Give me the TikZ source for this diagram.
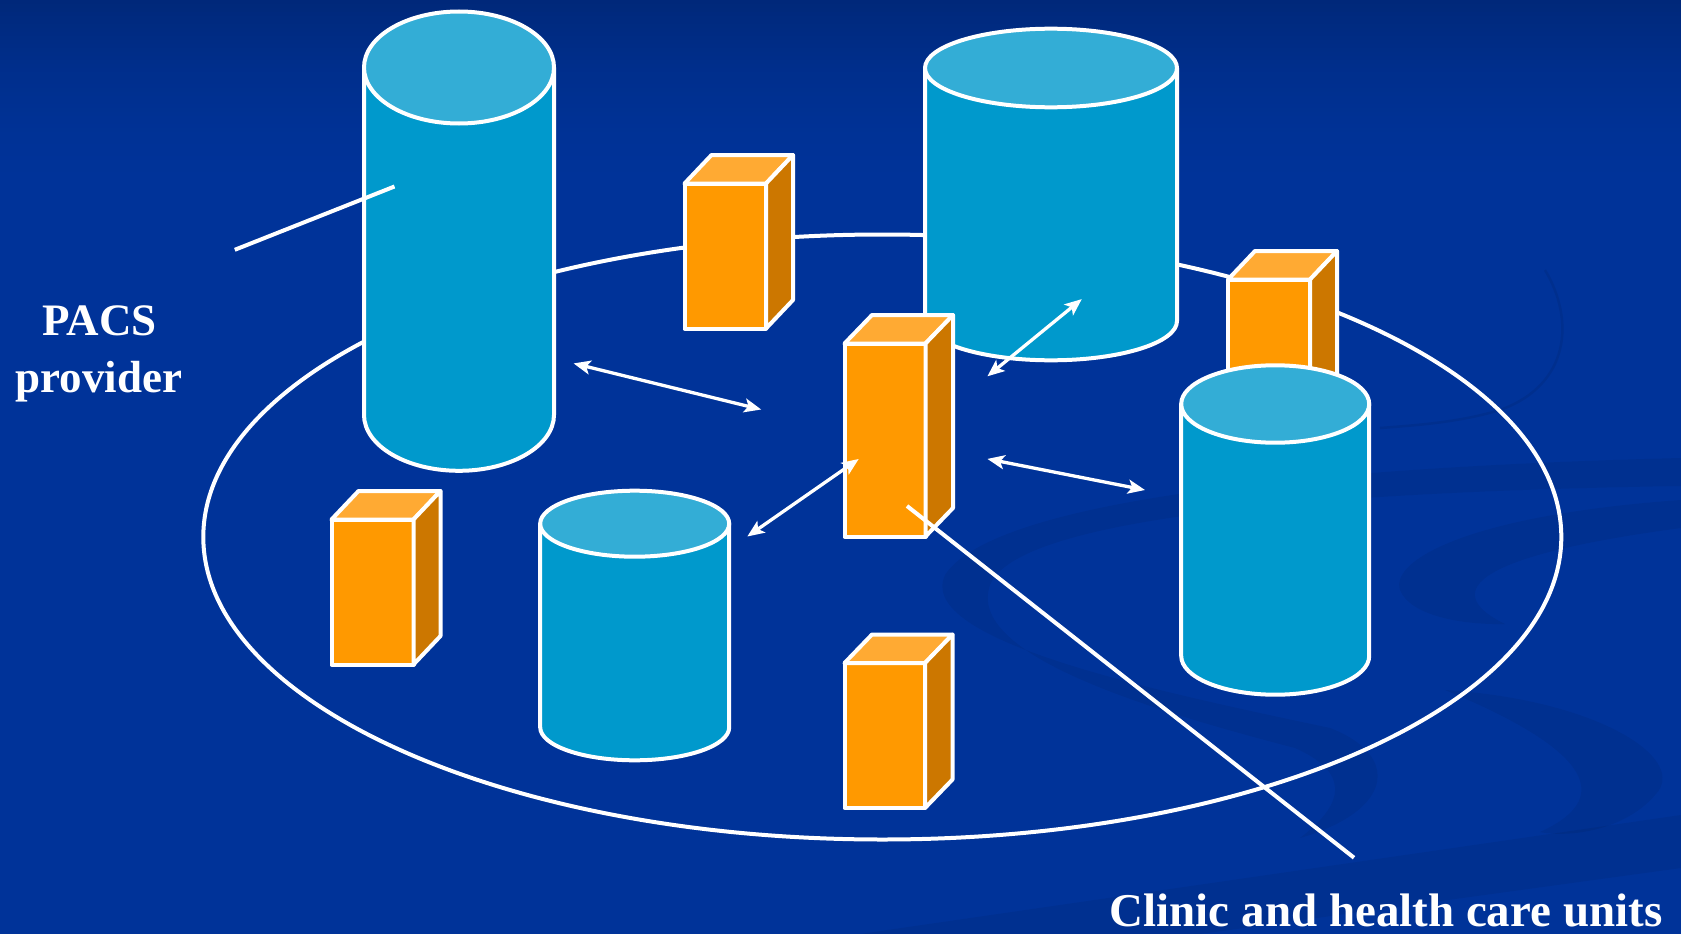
\documentclass[tikz,border=0pt]{standalone}
\usepackage{fontspec}
\setmainfont{Liberation Serif}
\usetikzlibrary{arrows.meta}

\definecolor{bgmain}{HTML}{003399}
\definecolor{bgtop}{HTML}{00287A}
\definecolor{cylbody}{HTML}{0099CC}
\definecolor{cyllid}{HTML}{33ADD6}
\definecolor{boxfront}{HTML}{FF9900}
\definecolor{boxtop}{HTML}{FFAA33}
\definecolor{boxside}{HTML}{CC7700}

% upright drum: centre x, lid centre y, base centre y, x radius, y radius
\newcommand\drumshape[5]{%
  \filldraw[drumbody] ({#1-#4},#2) -- ({#1-#4},#3)
    arc[start angle=180,end angle=0,x radius=#4,y radius=#5] -- ({#1+#4},#2) -- cycle;
  \filldraw[drumlid] (#1,#2) ellipse [x radius=#4,y radius=#5];
}
% box: left, top, right, bottom of the front face, depth x, depth y
\newcommand\crate[6]{%
  \filldraw[cratefront] (#1,#2) rectangle (#3,#4);
  \filldraw[cratetop] (#1,#2) -- ({#1+#5},{#2-#6}) -- ({#3+#5},{#2-#6}) -- (#3,#2) -- cycle;
  \filldraw[crateside] (#3,#2) -- ({#3+#5},{#2-#6}) -- ({#3+#5},{#4-#6}) -- (#3,#4) -- cycle;
}

\begin{document}
\begin{tikzpicture}[x=1pt,y=1pt,yscale=-1,
  rim/.style={draw=white,line width=4pt,line join=round},
  drumbody/.style={rim,fill=cylbody},
  drumlid/.style={rim,fill=cyllid},
  cratefront/.style={rim,fill=boxfront},
  cratetop/.style={rim,fill=boxtop},
  crateside/.style={rim,fill=boxside},
  ring/.style={draw=white,line width=4pt},
  leader/.style={draw=white,line width=4pt},
  link/.style={draw=white,line width=3.3pt,
    {Stealth[length=17pt,width=14pt,inset=4pt]}-{Stealth[length=17pt,width=14pt,inset=4pt]}},
  swirl/.style={fill=black,fill opacity=0.06},
  thinswirl/.style={draw=black,draw opacity=0.07,line width=2.5pt},
  lbl/.style={text=white,inner sep=0pt,font=\fontsize{45}{54}\selectfont\bfseries}
]
\useasboundingbox (0,0) rectangle (1681,934);

% backdrop with a darker band at the top
\fill[bgmain] (0,0) rectangle (1681,934);
\foreach \i in {0,...,49} {
  \pgfmathtruncatemacro\pct{100*(1-\i/50)^2}
  \fill[bgtop!\pct!bgmain] (0,{4*\i}) rectangle (1681,{4*\i+4.5});
}

% faint ribbons in the backdrop
\fill[swirl] (1681,458) .. controls (1400,465) and (1000,490) .. (945,575)
  .. controls (915,640) and (1150,690) .. (1330,728)
  .. controls (1400,755) and (1395,810) .. (1300,838)
  .. controls (1350,800) and (1345,770) .. (1295,748)
  .. controls (1150,710) and (965,655) .. (990,585)
  .. controls (1015,520) and (1300,492) .. (1681,486) -- cycle;
\fill[swirl] (1681,500) .. controls (1470,515) and (1390,560) .. (1400,590)
  .. controls (1410,615) and (1460,625) .. (1505,624)
  .. controls (1455,600) and (1440,560) .. (1681,528) -- cycle;
\fill[swirl] (1445,690) .. controls (1600,700) and (1690,760) .. (1655,795)
  .. controls (1625,830) and (1570,838) .. (1540,832)
  .. controls (1600,805) and (1615,760) .. (1445,690) -- cycle;
\fill[swirl] (860,934) -- (1681,815) -- (1681,868) -- (1200,934) -- cycle;
\draw[thinswirl] (1545,270) .. controls (1575,320) and (1570,385) .. (1500,410)
  .. controls (1460,422) and (1420,425) .. (1380,428);

% the ring of sites
\draw[ring] (882.3,537) ellipse [x radius=679,y radius=302.5];

% storage drums and workstations, back to front
\crate{1228}{279.5}{1310}{426}{27}{28.5}
\drumshape{1275.2}{404}{656}{94}{38.7}
\drumshape{1051}{68}{321}{126}{39.3}
\crate{844.5}{343.5}{925.5}{536.5}{27.5}{28.5}
\drumshape{459}{67.5}{414.8}{95}{56}
\crate{684.5}{183.5}{766}{328.5}{27}{28.5}
\crate{331.5}{519.5}{413.5}{664.5}{27}{28.5}
\drumshape{634.7}{523.7}{727.3}{94.5}{33}
\crate{844.5}{663}{925}{808}{27.5}{28.5}

% data links
\coordinate (l1a) at (573.6,363.4);  \coordinate (l1b) at (761.2,409.5);
\coordinate (l2a) at (987.4,376.3);  \coordinate (l2b) at (1081.8,299.1);
\coordinate (l3a) at (987.4,458.9);  \coordinate (l3b) at (1145,490);
\coordinate (l4a) at (747.3,536.5);  \coordinate (l4b) at (858.7,459);
\draw[link] (l1a) -- (l1b);
\draw[link] (l2a) -- (l2b);
\draw[link] (l3a) -- (l3b);
\draw[link] (l4a) -- (l4b);

% labels and their pointers
\node[lbl,anchor=base] (pacs) at (99.5,335) {PACS};
\node[lbl,anchor=base] (provider) at (99,392) {provider};
\node[lbl,anchor=base,font=\fontsize{47}{56}\selectfont\bfseries] (clinic) at (1386,926) {Clinic and health care units};

\coordinate (pacsfoot) at (234.8,249.8);  \coordinate (pacstip) at (394.5,186.5);
\coordinate (clinictip) at (907,506);     \coordinate (clinicfoot) at (1354,857.7);
\draw[leader] (pacsfoot) -- (pacstip);
\draw[leader] (clinictip) -- (clinicfoot);
\end{tikzpicture}
\end{document}
